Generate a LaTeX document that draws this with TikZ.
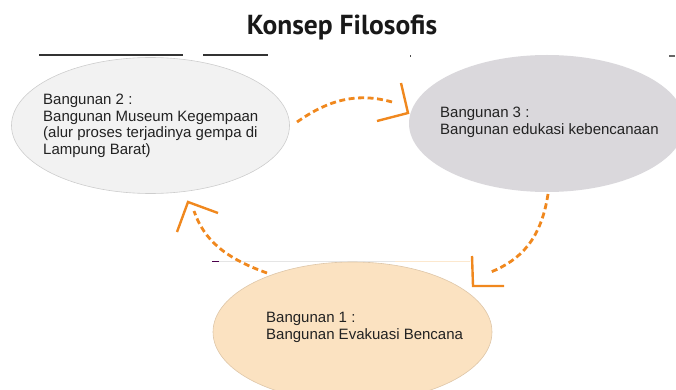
\documentclass[tikz,border=0pt]{standalone}
\usepackage{fontspec}
\setmainfont{Liberation Sans}
\newfontfamily\titlefont{PT Sans}
\usetikzlibrary{shapes.geometric}
\definecolor{flow}{RGB}{240,136,30}
\definecolor{txt}{RGB}{34,34,34}
\definecolor{fillA}{RGB}{242,242,242}
\definecolor{lineA}{RGB}{205,205,205}
\definecolor{fillB}{RGB}{218,216,220}
\definecolor{fillC}{RGB}{251,226,193}
\definecolor{lineC}{RGB}{222,198,168}
\tikzset{
  blob/.style={ellipse, inner sep=0pt},
  caption/.style={anchor=north west, align=left, inner sep=0pt, text=txt,
    font=\fontsize{15}{16.5}\selectfont},
  flowline/.style={draw=flow, line width=2.8pt, dash pattern=on 6pt off 3.5pt},
  chevron/.style={draw=flow, line width=2.4pt, line join=miter},
  rule/.style={draw=black!80, line width=1.3pt},
}
\begin{document}
\begin{tikzpicture}[x=1pt, y=-1pt]
\useasboundingbox (0,0) rectangle (676,390);

% title and ruling
\node[font=\titlefont\bfseries\fontsize{27.5}{30}\selectfont, text=black!90, anchor=base] (title) at (342,35) {Konsep Filosofis};
\draw[rule] (39,55) -- (183,55);
\draw[rule] (203,55) -- (268,55);
\fill[black!70] (409.5,55.5) rectangle (411,57);
\fill[black!60] (669,55.5) rectangle (675,57);
\draw[black!10, line width=1.2pt] (212,261.5) -- (395,261.5);
\draw[fillC!80, line width=1.2pt] (395,261.5) -- (470,261.5);
\draw[violet!60!black, line width=1.4pt] (212,261.5) -- (219,261.5);

% the three buildings
\node[blob, fill=fillA, draw=lineA, line width=0.6pt, minimum width=278pt, minimum height=136pt] (e2) at (150.5,125.5) {};
\node[blob, fill=fillB, minimum width=276pt, minimum height=137pt] (e3) at (547,123.5) {};
\node[blob, fill=fillC, draw=lineC, line width=0.6pt, minimum width=279pt, minimum height=140pt] (e1) at (352.5,332) {};

\node[caption] (t2) at (43,94) {Bangunan 2 :\\Bangunan Museum Kegempaan\\(alur proses terjadinya gempa di\\Lampung Barat)};
\node[caption] (t3) at (440,107) {Bangunan 3 :\\Bangunan edukasi kebencanaan};
\node[caption] (t1) at (266,312) {Bangunan 1 :\\Bangunan Evakuasi Bencana};

% flow 2 -> 3
\coordinate (a1s) at (297,122);
\coordinate (a1e) at (392,102);
\coordinate (h1) at (408,113);
\coordinate (h1a) at (401,83);
\coordinate (h1b) at (377,121);
\draw[flowline] (a1s) .. controls (320,106) and (350,90) .. (a1e);
\draw[chevron] (h1a) -- (h1) -- (h1b);

% flow 3 -> 1
\coordinate (a2s) at (548,194);
\coordinate (a2e) at (491,272);
\coordinate (h2) at (473,286);
\coordinate (h2a) at (472,256);
\coordinate (h2b) at (504,286);
\draw[flowline] (a2s) .. controls (541,240) and (520,260) .. (a2e);
\draw[chevron] (h2a) -- (h2) -- (h2b);

% flow 1 -> 2
\coordinate (a3s) at (267,273);
\coordinate (a3e) at (194,211);
\coordinate (h3) at (188,202);
\coordinate (h3a) at (177,232);
\coordinate (h3b) at (218,213);
\draw[flowline] (a3s) .. controls (225,258) and (204,240) .. (a3e);
\draw[chevron] (h3a) -- (h3) -- (h3b);
\end{tikzpicture}
\end{document}
